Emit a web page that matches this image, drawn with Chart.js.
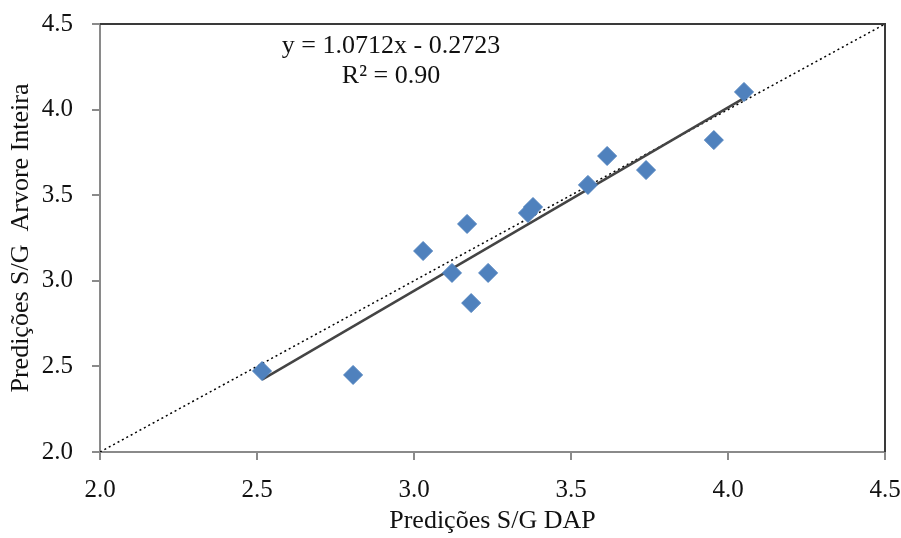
<!DOCTYPE html>
<html>
<head>
<meta charset="utf-8">
<script src="https://cdn.jsdelivr.net/npm/chart.js@4/dist/chart.umd.min.js"></script>
<style>
html,body{margin:0;padding:0;background:#fff}
#wrap{width:901px;height:538px}
</style>
</head>
<body>
<div id="wrap"><canvas id="c" width="901" height="538"></canvas></div>
<script>
// valores
let dapX=[2.516,2.806,3.029,3.121,3.169,3.182,3.236,3.363,3.379,3.554,3.615,3.739,3.955,4.051]
let arvY=[2.473,2.450,3.174,3.046,3.332,2.870,3.046,3.396,3.431,3.560,3.729,3.647,3.822,4.103]

let trendX=[2.516,4.051]
let trendY=[2.423,4.067]

let refX=[2.0,4.5]
let refY=[2.0,4.5]

let axisTicks=[2.0,2.5,3.0,3.5,4.0,4.5]

let eqText=["y = 1.0712x - 0.2723","R² = 0.90"]

let toPts=(xs,ys)=>xs.map((x,i)=>({x:x,y:ys[i]}))

let serif="'Liberation Serif','Times New Roman',serif"

// borda de cima e da direita + texto da equação
let boxPlugin={
id:"box",
afterDatasetsDraw(chart){
let a=chart.chartArea
let ctx=chart.ctx
ctx.save()
ctx.strokeStyle="#3a3a3a"
ctx.lineWidth=2
ctx.beginPath()
ctx.moveTo(a.left,a.top)
ctx.lineTo(a.right,a.top)
ctx.lineTo(a.right,a.bottom)
ctx.stroke()
ctx.fillStyle="#111"
ctx.font="26px "+serif
ctx.textAlign="center"
ctx.textBaseline="middle"
ctx.fillText(eqText[0],391,46)
ctx.fillText(eqText[1],391,76)
ctx.restore()
}
}

let axisOpts={
type:"linear",
min:2,
max:4.5,
afterBuildTicks(s){ s.ticks=axisTicks.map(v=>({value:v})) },
grid:{display:true,drawOnChartArea:false,drawTicks:true,tickLength:8,color:"#8a8a8a",lineWidth:2},
border:{display:true,color:"#8a8a8a",width:2},
ticks:{color:"#111",font:{family:serif,size:25},callback:v=>v.toFixed(1)}
}

let chart=new Chart(document.getElementById("c"),{
type:"scatter",
data:{
datasets:[
{
label:"pontos",
data:toPts(dapX,arvY),
pointStyle:"rectRot",
pointRadius:9.5,
backgroundColor:"#4f81bd",
borderColor:"#4f81bd",
borderWidth:1,
order:1
},
{
label:"tendência",
data:toPts(trendX,trendY),
showLine:true,
pointRadius:0,
borderColor:"#444",
borderWidth:2.5,
order:2
},
{
label:"1:1",
data:toPts(refX,refY),
showLine:true,
pointRadius:0,
borderColor:"#000",
borderWidth:1.5,
borderDash:[2,3],
order:3
}
]
},
options:{
responsive:false,
animation:false,
layout:{padding:{top:24,right:16,left:0,bottom:0}},
plugins:{legend:{display:false},tooltip:{enabled:false}},
scales:{
x:Object.assign({},axisOpts,{
position:"bottom",
ticks:Object.assign({},axisOpts.ticks,{padding:15,maxRotation:0}),
title:{display:true,text:"Predições S/G DAP",color:"#111",font:{family:serif,size:26},padding:{top:4,bottom:1}},
afterFit(s){ s.height=86; s.paddingLeft=0; s.paddingRight=0 }
}),
y:Object.assign({},axisOpts,{
position:"left",
ticks:Object.assign({},axisOpts.ticks,{padding:19}),
title:{display:true,text:"Predições S/G  Arvore Inteira",color:"#111",font:{family:serif,size:26},padding:{top:6,bottom:4}},
afterFit(s){ s.width=100; s.paddingTop=0; s.paddingBottom=0 }
})
}
},
plugins:[boxPlugin]
})
</script>
</body>
</html>
